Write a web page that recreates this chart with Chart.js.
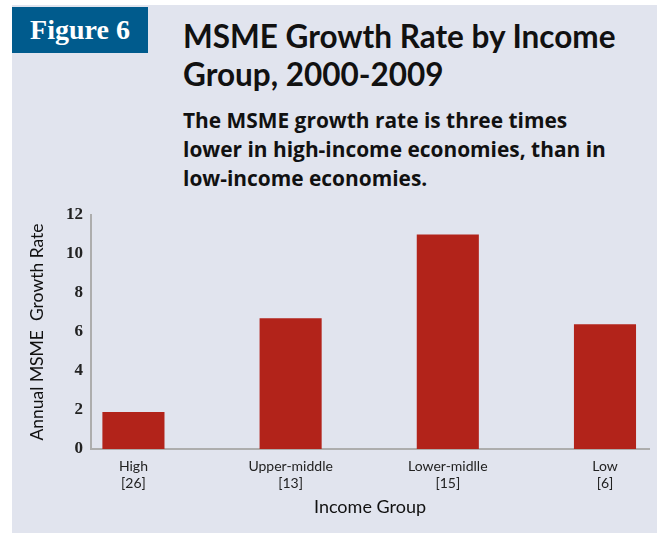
<!DOCTYPE html>
<html>
<head>
<meta charset="utf-8">
<script src="https://cdn.jsdelivr.net/npm/chart.js@4.4.0/dist/chart.umd.min.js"></script>
<style>
  html, body { margin: 0; padding: 0; background: #ffffff; }
  body { width: 657px; height: 533px; position: relative; overflow: hidden; }
  #panel { position: absolute; left: 12px; top: 5px; width: 645px; height: 528px; background: #e1e4ee; }
  #fig { position: absolute; left: 12px; top: 7px; width: 136px; height: 46px; background: #005b8d;
         color: #ffffff; font-family: "Liberation Serif", serif; font-weight: bold; font-size: 28px;
         line-height: 46px; text-align: center; }
  #title { position: absolute; left: 183px; top: 17px; width: 470px; font-family: "Lato", sans-serif;
           font-weight: bold; font-size: 31.5px; line-height: 38px; color: #111; white-space: nowrap; }
  #sub { position: absolute; left: 183px; top: 106px; width: 470px; font-family: "Open Sans", sans-serif;
         font-weight: bold; font-size: 20.9px; line-height: 29px; color: #111; white-space: nowrap; }
  #wrap { position: absolute; left: 0; top: 195px; width: 657px; height: 338px; }
</style>
</head>
<body>
<div id="panel"></div>
<div id="fig">Figure 6</div>
<div id="title">MSME Growth Rate by Income<br>Group, 2000-2009</div>
<div id="sub">The MSME growth rate is three times<br>lower in high-income economies, than in<br>low-income economies.</div>
<div id="wrap"><canvas id="c" width="657" height="338"></canvas></div>
<script>
const categories = ["High", "Upper-middle", "Lower-midlle", "Low"];
const counts = ["[26]", "[13]", "[15]", "[6]"];
const growthRate = [1.9, 6.7, 11.0, 6.4];
const yTicks = [0, 2, 4, 6, 8, 10, 12];

const points = growthRate.map((v, i) => ({ x: i, y: v }));

new Chart(document.getElementById('c'), {
  type: 'bar',
  data: {
    datasets: [{
      data: points,
      backgroundColor: '#b2231a',
      borderWidth: 0,
      barPercentage: 0.395,
      categoryPercentage: 1
    }]
  },
  options: {
    responsive: false,
    animation: false,
    layout: { padding: { top: 20, right: 8, left: 0, bottom: 0 } },
    plugins: { legend: { display: false }, tooltip: { enabled: false } },
    scales: {
      x: {
        type: 'linear',
        offset: false,
        min: -0.27,
        max: 3.28,
        grid: { display: false, drawTicks: false },
        border: { display: true, color: '#adadad', width: 2 },
        afterBuildTicks: (s) => { s.ticks = categories.map((c, i) => ({ value: i })); },
        afterFit: (s) => { s.height = 84; },
        ticks: {
          autoSkip: false,
          maxRotation: 0,
          padding: 9,
          color: '#222',
          font: { family: 'Lato, sans-serif', size: 14 },
          callback: (v) => [categories[v], counts[v]]
        },
        title: {
          display: true,
          text: 'Income Group',
          color: '#111',
          font: { family: 'Lato, sans-serif', size: 18 },
          padding: { top: 0, bottom: 15 }
        }
      },
      y: {
        min: 0,
        max: 12,
        grid: { display: false, drawTicks: false },
        border: { display: true, color: '#adadad', width: 2 },
        afterBuildTicks: (s) => { s.ticks = yTicks.map(v => ({ value: v })); },
        afterFit: (s) => { s.width = 91; },
        ticks: {
          padding: 8,
          color: '#222',
          font: { family: '"Liberation Serif", serif', size: 17, weight: 'bold' }
        },
        title: {
          display: true,
          text: 'Annual MSME  Growth Rate',
          color: '#111',
          font: { family: 'Lato, sans-serif', size: 17.5 },
          padding: { top: 27, bottom: 0 }
        }
      }
    }
  }
});
</script>
</body>
</html>
